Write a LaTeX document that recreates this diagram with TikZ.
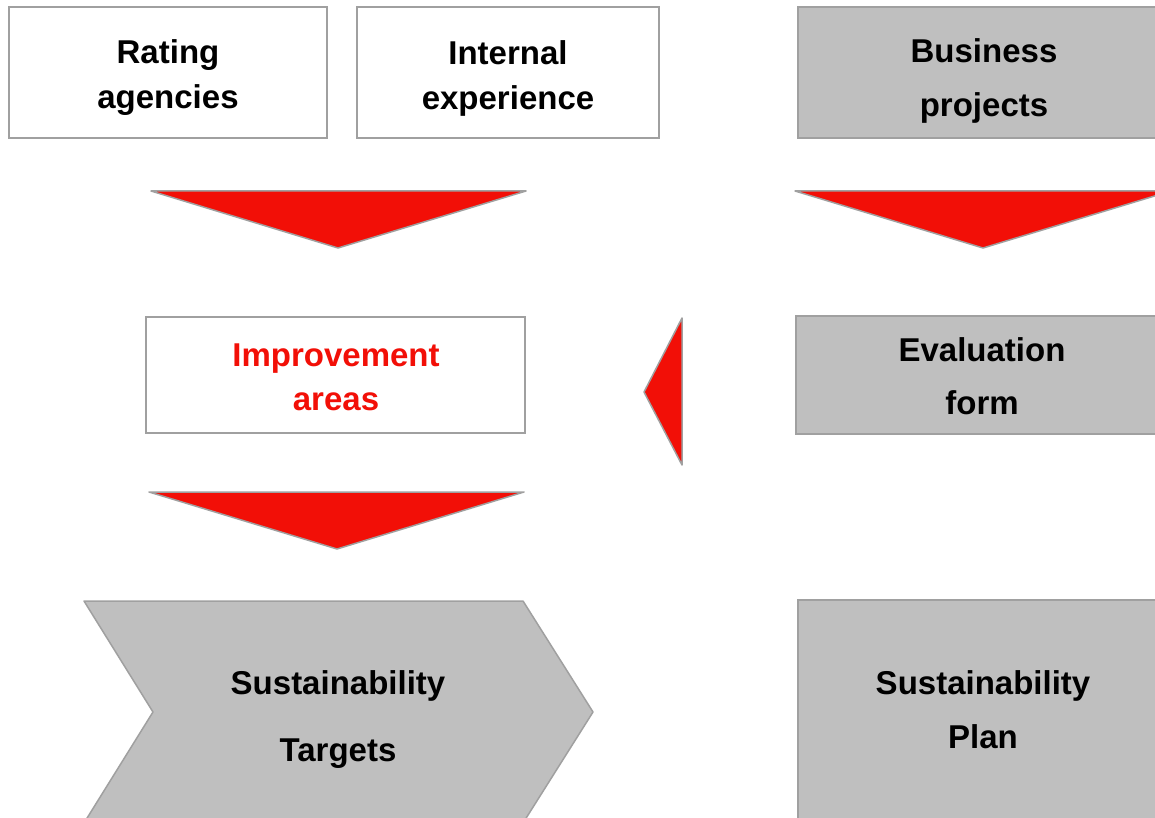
\documentclass[tikz,border=0pt]{standalone}
\usepackage{fontspec}
\setmainfont{Liberation Sans}
\usepackage{tikz}
\definecolor{arrowred}{RGB}{242,15,7}
\definecolor{boxgray}{RGB}{191,191,191}
\definecolor{edgegray}{RGB}{160,160,160}

\tikzset{
  box/.style={draw=edgegray, line width=1.5pt},
  greybox/.style={box, fill=boxgray},
  label/.style={align=center, font=\bfseries\fontsize{33}{45}\selectfont},
  redarrow/.style={fill=arrowred, draw=edgegray, line width=1.5pt, line join=round}
}

\begin{document}
\begin{tikzpicture}[x=1pt,y=-1pt]
                \clip (0,0) rectangle (1155,818);
                \fill[white] (0,0) rectangle (1155,818);

                % top row
                \draw[box] (9,7) rectangle (327,138);
                \node[label] (rating) at (168,78) {Rating\\agencies};

                \draw[box] (357,7) rectangle (659,138);
                \node[label] (internal) at (508,78) {Internal\\experience};

                \draw[greybox] (798,7) rectangle (1170,138);
                \node[label, font=\bfseries\fontsize{33}{54}\selectfont] (business) at (984,81) {Business\\projects};

                % arrows down
                \draw[redarrow] (151,191) -- (526,191) -- (338,248) -- cycle;
                \draw[redarrow] (795,191) -- (1171,191) -- (983,248) -- cycle;

                % middle row
                \draw[box] (146,317) rectangle (525,433);
                \node[label, text=arrowred, font=\bfseries\fontsize{33}{44}\selectfont] (improve) at (336,377) {Improvement\\areas};

                \draw[redarrow] (682,318) -- (682,465) -- (644,392) -- cycle;

                \draw[greybox] (796,316) rectangle (1170,434);
                \node[label, font=\bfseries\fontsize{33}{53}\selectfont] (evalform) at (982,376) {Evaluation\\form};

                \draw[redarrow] (149,492) -- (524,492) -- (337,549) -- cycle;

                % bottom row
                \draw[greybox, line join=round] (84,601) -- (523,601) -- (593,712) -- (523,823) -- (84,823) -- (153,712) -- cycle;
                \node[label, font=\bfseries\fontsize{33}{67}\selectfont] (targets) at (338,720) {Sustainability\\Targets};

                \draw[greybox] (798,600) rectangle (1170,830);
                \node[label, font=\bfseries\fontsize{33}{54}\selectfont] (plan) at (983,710) {Sustainability\\Plan};
            \end{tikzpicture}
\end{document}
